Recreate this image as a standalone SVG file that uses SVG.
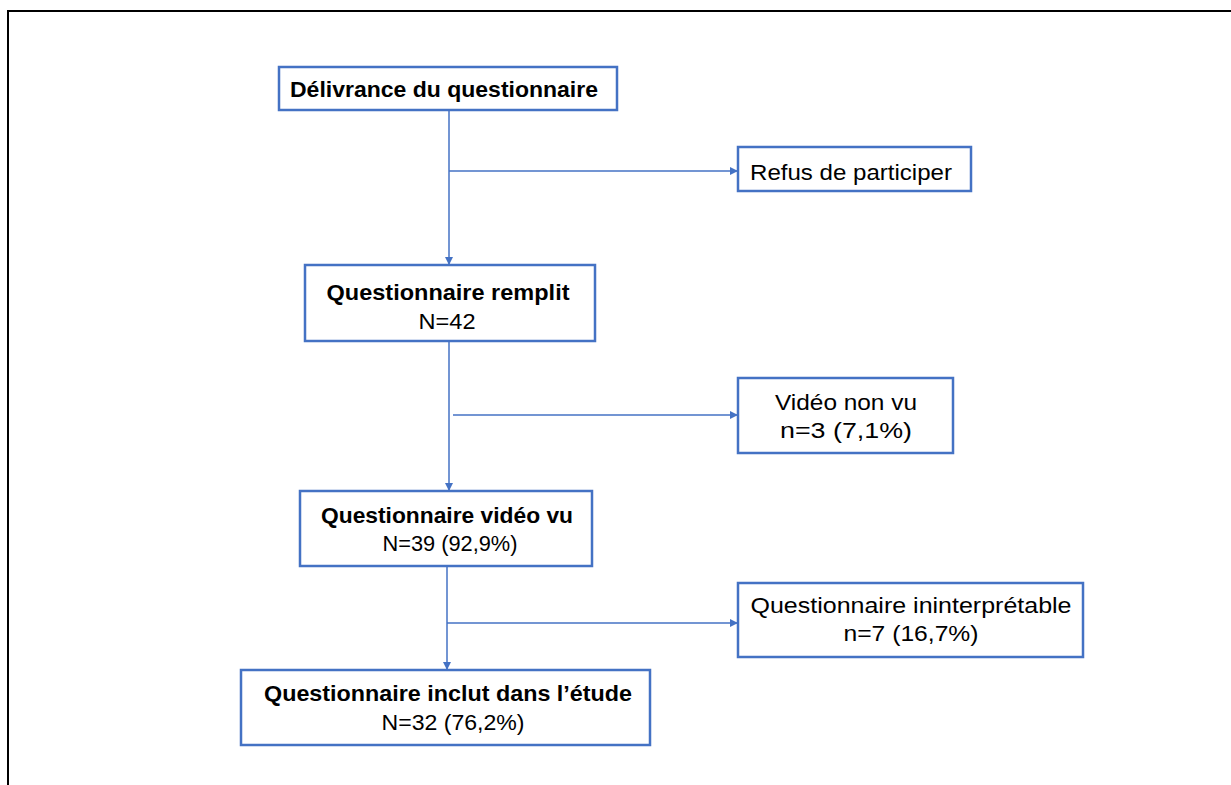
<svg xmlns="http://www.w3.org/2000/svg" width="1231" height="785" viewBox="0 0 1231 785">
<style>
.box{fill:#fff;stroke:#4472C4;stroke-width:2.5}
.ln{fill:none;stroke:#4472C4;stroke-width:1.5}
text{font-family:"Liberation Sans",Arial,sans-serif;font-size:22px;fill:#000;text-anchor:middle}
.b{font-weight:bold}
</style>
<defs>
<marker id="ah" viewBox="0 0 10 10" refX="10" refY="5" markerWidth="8" markerHeight="8" markerUnits="userSpaceOnUse" orient="auto">
<path d="M0,0 L10,5 L0,10 z" fill="#4472C4"/>
</marker>
</defs>
<rect width="1231" height="785" fill="#fff"/>
<path d="M8,785 V11 H1231" fill="none" stroke="#000" stroke-width="2"/>
<g id="connectors">
<line class="ln" x1="449" y1="110" x2="449" y2="265" marker-end="url(#ah)"/>
<line class="ln" x1="449" y1="171" x2="738" y2="171" marker-end="url(#ah)"/>
<line class="ln" x1="449" y1="341" x2="449" y2="491" marker-end="url(#ah)"/>
<line class="ln" x1="453" y1="415" x2="738" y2="415" marker-end="url(#ah)"/>
<line class="ln" x1="447" y1="566" x2="447" y2="670" marker-end="url(#ah)"/>
<line class="ln" x1="447" y1="623" x2="738" y2="623" marker-end="url(#ah)"/>
</g>
<g id="n1"><rect class="box" x="279" y="67" width="338" height="43"/><text class="b" x="444" y="97" textLength="308" lengthAdjust="spacingAndGlyphs">Délivrance du questionnaire</text></g>
<g id="n2"><rect class="box" x="738" y="147" width="233" height="44"/><text x="851" y="180" textLength="202" lengthAdjust="spacingAndGlyphs">Refus de participer</text></g>
<g id="n3"><rect class="box" x="305" y="265" width="290" height="76"/><text class="b" x="448" y="300" textLength="243" lengthAdjust="spacingAndGlyphs">Questionnaire remplit</text><text x="447" y="329" textLength="57" lengthAdjust="spacingAndGlyphs">N=42</text></g>
<g id="n4"><rect class="box" x="738" y="378" width="215" height="75"/><text x="846" y="410" textLength="142" lengthAdjust="spacingAndGlyphs">Vidéo non vu</text><text x="846" y="438" textLength="132" lengthAdjust="spacingAndGlyphs">n=3 (7,1%)</text></g>
<g id="n5"><rect class="box" x="300" y="491" width="292" height="75"/><text class="b" x="447" y="523" textLength="252" lengthAdjust="spacingAndGlyphs">Questionnaire vidéo vu</text><text x="450" y="551" textLength="135" lengthAdjust="spacingAndGlyphs">N=39 (92,9%)</text></g>
<g id="n6"><rect class="box" x="738" y="583" width="345" height="74"/><text x="911" y="613" textLength="321" lengthAdjust="spacingAndGlyphs">Questionnaire ininterprétable</text><text x="911" y="641" textLength="135" lengthAdjust="spacingAndGlyphs">n=7 (16,7%)</text></g>
<g id="n7"><rect class="box" x="241" y="670" width="409" height="75"/><text class="b" x="448" y="701" textLength="368" lengthAdjust="spacingAndGlyphs">Questionnaire inclut dans l’étude</text><text x="453" y="730" textLength="143" lengthAdjust="spacingAndGlyphs">N=32 (76,2%)</text></g>
</svg>
